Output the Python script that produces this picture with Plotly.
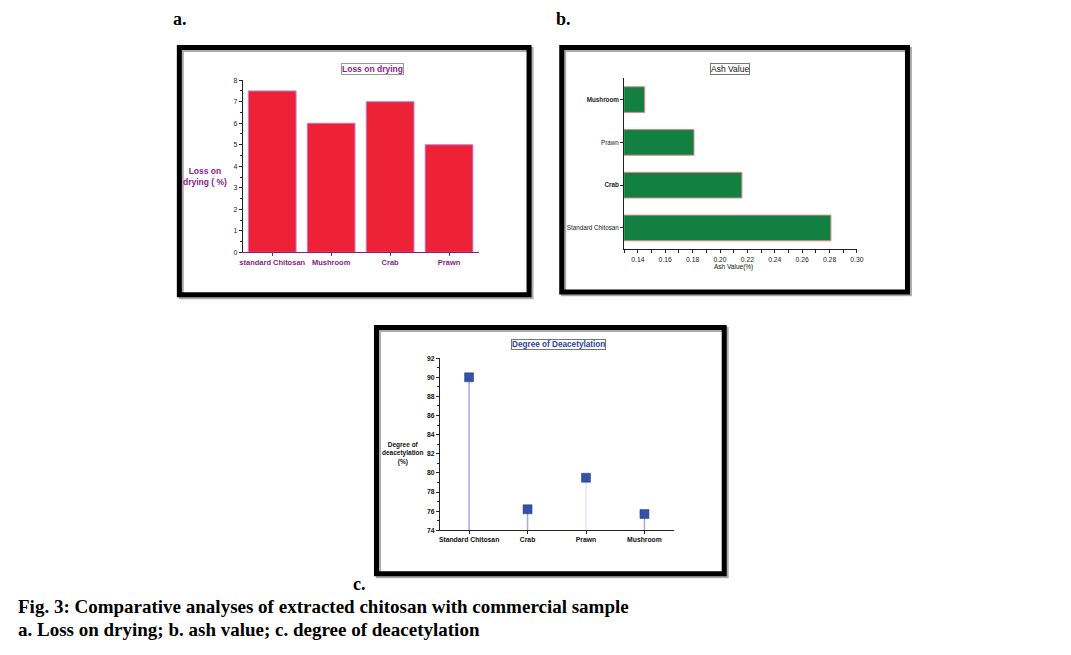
import plotly.graph_objects as go

W, H = 1071, 655

# ---- data ----
lod_categories = ["standard Chitosan", "Mushroom", "Crab", "Prawn"]
lod_values = [7.5, 6.0, 7.0, 5.0]

ash_categories = ["Standard Chitosan", "Crab", "Prawn", "Mushroom"]
ash_values = [0.281, 0.216, 0.181, 0.145]

dd_categories = ["Standard Chitosan", "Crab", "Prawn", "Mushroom"]
dd_values = [90.0, 76.2, 79.5, 75.7]
dd_base = 74

def px(x):
    return x / W

def py(y):
    return 1 - y / H

PURPLE = "#8a1c8a"
SANS = "Liberation Sans, Arial, sans-serif"
SERIF = "Liberation Serif, Times New Roman, serif"

fig = go.Figure()

# panel a: bars
fig.add_trace(go.Bar(
    x=lod_categories, y=lod_values, xaxis="x", yaxis="y",
    marker=dict(color="#ee2236", line=dict(color="#c080d0", width=1)),
    width=0.81, showlegend=False,
))

# panel b: horizontal bars
fig.add_trace(go.Bar(
    x=ash_values, y=ash_categories, orientation="h", xaxis="x2", yaxis="y2",
    marker=dict(color="#128040", line=dict(color="#e08888", width=1)),
    width=0.6, showlegend=False,
))

# panel c: stems + square markers
stem_colors = ["#a8a8dc", "#a8a8dc", "#e4e4f2", "#a8a8dc"]
for c, v, col in zip(dd_categories, dd_values, stem_colors):
    fig.add_trace(go.Scatter(
        x=[c, c], y=[dd_base, v], mode="lines", xaxis="x3", yaxis="y3",
        line=dict(color=col, width=1.5), showlegend=False, hoverinfo="skip",
    ))
fig.add_trace(go.Scatter(
    x=dd_categories, y=dd_values, mode="markers", xaxis="x3", yaxis="y3",
    marker=dict(symbol="square", size=9, color="#3452a8",
                line=dict(color="#243a80", width=0.5)),
    showlegend=False,
))

tick_common = dict(ticks="outside", ticklen=3, tickwidth=1, showgrid=False, zeroline=False,
                   showline=True, linewidth=1)

fig.update_layout(
    width=W, height=H, autosize=False, margin=dict(l=0, r=0, t=0, b=0),
    paper_bgcolor="white", plot_bgcolor="rgba(0,0,0,0)",
    xaxis=dict(domain=[px(242), px(480)], anchor="y", type="category",
               categoryorder="array", categoryarray=lod_categories, range=[-0.5, 3.5],
               linecolor=PURPLE, tickcolor=PURPLE,
               tickfont=dict(family=SANS, size=7.5, color=PURPLE, weight="bold"),
               **tick_common),
    yaxis=dict(domain=[py(251), py(77)], anchor="x", range=[0, 8], dtick=1,
               linecolor="#222", tickcolor="#222",
               tickfont=dict(family=SANS, size=7, color="#222"),
               minor=dict(ticks="outside", ticklen=2, dtick=0.5, tickcolor="#222"),
               **tick_common),
    xaxis2=dict(domain=[px(627), px(862)], anchor="y2", range=[0.13, 0.30],
                tick0=0.14, dtick=0.02, tickformat=".2f",
                linecolor="#222", tickcolor="#222",
                tickfont=dict(family=SANS, size=6.8, color="#222"),
                minor=dict(ticks="outside", ticklen=3, dtick=0.01, tickcolor="#222"),
                **tick_common),
    yaxis2=dict(domain=[py(248), py(75)], anchor="x2", type="category",
                categoryorder="array", categoryarray=ash_categories, range=[-0.5, 3.5],
                tickvals=ash_categories,
                ticktext=["Standard Chitosan", "<b>Crab</b>", "Prawn", "<b>Mushroom</b>"],
                linecolor="#222", tickcolor="#222",
                tickfont=dict(family=SANS, size=6.3, color="#222"),
                **tick_common),
    xaxis3=dict(domain=[px(441), px(677)], anchor="y3", type="category",
                categoryorder="array", categoryarray=dd_categories, range=[-0.5, 3.5],
                linecolor="#222", tickcolor="#222",
                tickfont=dict(family=SANS, size=6.8, color="#111", weight="bold"),
                **tick_common),
    yaxis3=dict(domain=[py(532), py(358)], anchor="x3", range=[74, 92], dtick=2,
                linecolor="#222", tickcolor="#222",
                tickfont=dict(family=SANS, size=6.8, color="#111", weight="bold"),
                minor=dict(ticks="outside", ticklen=2, dtick=1, tickcolor="#222"),
                **tick_common),
)

# frames (shadow + black border)
frames = [(178, 44, 531, 294), (564, 44, 913, 291), (377, 327, 728, 576)]
shapes = []
for x0, y0, x1, y1 in frames:
    shapes.append(dict(type="rect", xref="paper", yref="paper",
                       x0=px(x0 + 2), y0=py(y0 + 2), x1=px(x1 + 2), y1=py(y1 + 2),
                       line=dict(color="#aaaaaa", width=5), layer="below"))
    shapes.append(dict(type="rect", xref="paper", yref="paper",
                       x0=px(x0), y0=py(y0), x1=px(x1), y1=py(y1),
                       line=dict(color="black", width=5), layer="below"))
fig.update_layout(shapes=shapes)

ann = []
def text(x, y, s, size, color="black", family=SANS, xanchor="center", yanchor="middle",
         align="center", **kw):
    ann.append(dict(x=px(x), y=py(y), xref="paper", yref="paper", text=s,
                    showarrow=False, xanchor=xanchor, yanchor=yanchor, align=align,
                    font=dict(size=size, color=color, family=family), **kw))

# panel titles (boxed)
text(373, 66, "<b>Loss on drying</b>", 8.5, PURPLE, bordercolor="#999", borderwidth=1,
     borderpad=0, bgcolor="white")
text(734, 66, "Ash Value", 8.5, "#111", bordercolor="#777", borderwidth=1,
     borderpad=0, bgcolor="white")
text(561, 344, "<b>Degree of Deacetylation</b>", 8.2, "#2c44a0", bordercolor="#777",
     borderwidth=1, borderpad=0, bgcolor="white")

# axis titles
text(204, 174, "<b>Loss on<br>drying ( %)</b>", 8.5, PURPLE)
text(737, 266, "Ash Value(%)", 6.5, "#111")
text(404, 454, "<b>Degree of<br>deacetylation<br>(%)</b>", 6.5, "#111")

# captions
text(170, 15, "<b>a.</b>", 18, family=SERIF, xanchor="left")
text(556, 15, "<b>b.</b>", 18, family=SERIF, xanchor="left")
text(351, 586, "<b>c.</b>", 18, family=SERIF, xanchor="left")
text(13, 609, "<b>Fig. 3: Comparative analyses of extracted chitosan with commercial sample</b>",
     19, family=SERIF, xanchor="left")
text(13, 632, "<b>a. Loss on drying; b. ash value; c. degree of deacetylation</b>",
     19, family=SERIF, xanchor="left")

fig.update_layout(annotations=ann)

fig.write_html("out.html", config={"displayModeBar": False},
               post_script="document.body.style.margin='0px';")
